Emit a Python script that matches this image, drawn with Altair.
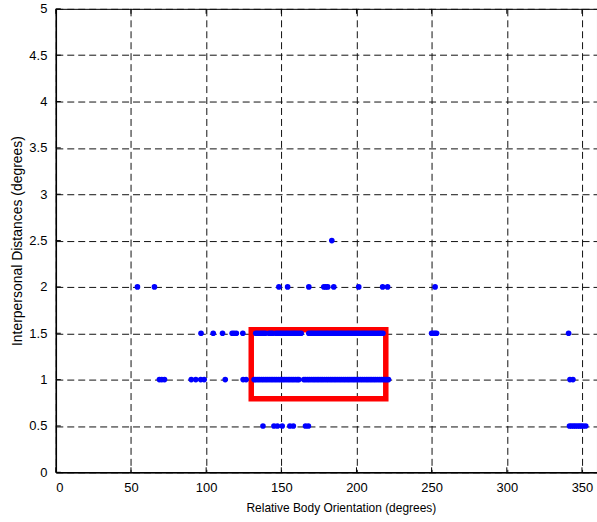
import altair as alt
import pandas as pd

# Relative body orientation (degrees) of each observed pair, grouped by distance level
x_at_2_5 = [183.6]
x_at_2_0 = [54.3, 65.6, 148.4, 154.2, 168.3, 178.3, 179.6, 180.9, 184.9, 201.5,
            217.4, 220.7, 252.3]
x_at_1_5 = [96.6, 104.7, 110.9, 117.3, 118.6, 120.1, 124.4,
            133.0, 134.2, 135.6, 136.9, 138.1, 139.4, 141.8, 143.0, 144.2, 146.3,
            147.6, 148.9, 150.1, 151.4, 152.8, 154.0, 155.3, 156.7, 158.0, 159.2,
            160.5, 161.9, 163.2,
            168.3, 169.6, 170.8, 172.1, 173.5, 174.8, 176.0, 177.3, 178.7, 180.0,
            181.2, 182.6, 183.9, 185.1, 186.4, 187.8, 189.1, 190.3, 191.6, 193.0,
            194.3, 195.5, 196.8, 198.2, 199.5, 200.7, 202.0, 203.4, 204.7, 205.9,
            207.2, 208.6, 209.9, 211.1, 212.4, 213.8, 215.1, 216.3, 217.6,
            250.0, 251.2, 252.3, 253.3, 341.1]
x_at_1_0 = [68.9, 70.5, 72.3, 90.1, 93.1, 96.4, 98.7, 112.7, 124.6, 126.6,
            131.9, 133.1, 134.4, 135.6, 136.9, 138.1, 139.4, 140.6, 141.9, 143.2,
            144.4, 145.7, 146.9, 148.2, 149.4, 150.7, 151.9, 153.2, 154.5, 155.7,
            157.0, 158.2, 159.5, 160.7, 161.7,
            165.0, 166.2, 167.5, 168.7, 170.0, 171.3, 172.5, 173.8, 175.0, 176.3,
            177.5, 178.8, 180.1, 181.3, 182.6, 183.8, 185.1, 186.3, 187.6, 188.9,
            190.1, 191.4, 192.6, 193.9, 195.1, 196.4, 197.7, 198.9, 200.2, 201.4,
            202.7, 203.9, 205.2, 206.5, 207.7, 209.0, 210.2, 211.5, 212.7, 214.0,
            215.3, 216.5, 217.8, 219.0, 220.1, 221.3,
            342.0, 344.0]
x_at_0_5 = [137.8, 145.1, 147.4, 150.6, 155.7, 158.0, 166.1, 168.0,
            341.7, 343.0, 344.4, 345.6, 347.0, 348.3, 349.5, 350.8, 352.5]

# Highlighted region (orientation range x distance range)
box_x = [130.0, 219.5]
box_y = [0.794, 1.538]

x_ticks = [0, 50, 100, 150, 200, 250, 300, 350]
y_ticks = [0, 0.5, 1, 1.5, 2, 2.5, 3, 3.5, 4, 4.5, 5]

rows = []
for level, xs in [(2.5, x_at_2_5), (2.0, x_at_2_0), (1.5, x_at_1_5),
                  (1.0, x_at_1_0), (0.5, x_at_0_5)]:
    rows += [{"orientation": v, "distance": level} for v in xs]
points_df = pd.DataFrame(rows)

W, H = 543, 465
FONT = "'Liberation Sans', Arial, sans-serif"

xscale = alt.Scale(domain=[0, 360], nice=False, zero=False)
yscale = alt.Scale(domain=[0, 5], nice=False, zero=False)

x_axis = alt.Axis(values=x_ticks, title="Relative Body Orientation (degrees)",
                  grid=True, gridDash=[7, 4], gridColor="#111", gridWidth=1,
                  ticks=False, labelPadding=9, labelFont=FONT, labelFontSize=13,
                  titleFont=FONT, titleFontSize=12,
                  titleX=286, titleY=35, titleBaseline="middle", titleAlign="center",
                  domainColor="black", domainWidth=1.5)
y_axis = alt.Axis(values=y_ticks, format="~g",
                  title="Interpersonal Distances (degrees)",
                  grid=True, gridDash=[7, 4], gridColor="#111", gridWidth=1,
                  ticks=False, labelPadding=9, labelFont=FONT, labelFontSize=13,
                  titleFont=FONT, titleFontSize=14,
                  titleX=-38, titleY=H / 2, titleBaseline="middle", titleAlign="center",
                  titleAngle=270,
                  domainColor="black", domainWidth=1.5)

base_points = alt.Chart(points_df).mark_circle(
    size=32, color="#0000ff", opacity=1
).encode(
    x=alt.X("orientation:Q", scale=xscale, axis=x_axis),
    y=alt.Y("distance:Q", scale=yscale, axis=y_axis),
)

box = alt.Chart(pd.DataFrame({"x1": [box_x[0]], "x2": [box_x[1]],
                              "y1": [box_y[0]], "y2": [box_y[1]]})).mark_rect(
    filled=False, stroke="#ff0000", strokeWidth=5.5
).encode(
    x=alt.X("x1:Q", scale=xscale),
    x2="x2:Q",
    y=alt.Y("y1:Q", scale=yscale),
    y2="y2:Q",
)

xt_df = pd.DataFrame({"t": x_ticks})
yt_df = pd.DataFrame({"t": y_ticks})

# inward tick marks along the bottom and top edges
x_ticks_bottom = alt.Chart(xt_df).mark_rule(color="black", strokeWidth=1).encode(
    x=alt.X("t:Q", scale=xscale), y=alt.value(H), y2=alt.value(H - 5))
x_ticks_top = alt.Chart(xt_df).mark_rule(color="black", strokeWidth=1).encode(
    x=alt.X("t:Q", scale=xscale), y=alt.value(0), y2=alt.value(5))
# inward tick marks along the left edge
y_ticks_left = alt.Chart(yt_df).mark_rule(color="black", strokeWidth=1).encode(
    y=alt.Y("t:Q", scale=yscale), x=alt.value(0), x2=alt.value(5))

chart = alt.layer(
    box, base_points, x_ticks_bottom, x_ticks_top, y_ticks_left
).properties(
    width=W, height=H,
    padding={"left": 56, "top": 8, "right": 0, "bottom": 49},
    autosize=alt.AutoSizeParams(type="none"),
    background="white",
).configure_view(
    stroke="black", strokeWidth=1
).configure_axis(
    labelColor="black", titleColor="black", titleFontWeight="normal",
)

chart.save("out.html", embed_options={"renderer": "svg", "actions": False})
